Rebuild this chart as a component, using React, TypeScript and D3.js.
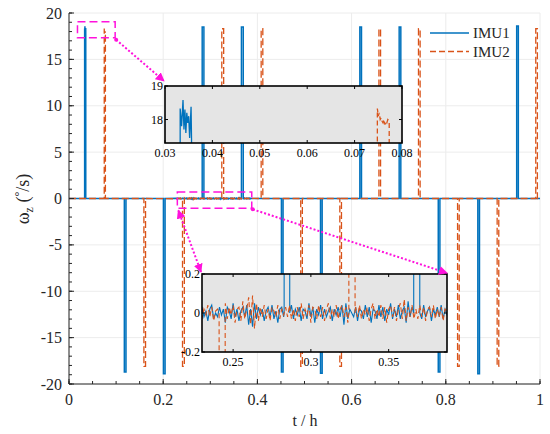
import React from "react";
import * as d3 from "d3";

// ---------- data (t in h, omega_z in deg/s) ----------
const imu1Start = [0.0332, 0.1175, 0.2005, 0.2828, 0.3661, 0.451, 0.534, 0.6175, 0.701, 0.784, 0.868, 0.9505];
const imu1End = [0.0356, 0.121, 0.204, 0.2864, 0.37, 0.4545, 0.5375, 0.621, 0.7045, 0.7875, 0.8715, 0.954];
const imu1Peak = [18.4, -18.7, -18.9, 18.5, 18.5, -18.7, -18.85, 18.5, 18.5, -18.7, -18.9, 18.6];

const imu2Start = [0.0748, 0.159, 0.241, 0.3244, 0.408, 0.492, 0.575, 0.658, 0.742, 0.825, 0.909, 0.991];
const imu2End = [0.0773, 0.1625, 0.2449, 0.3284, 0.4115, 0.4955, 0.5785, 0.6615, 0.7455, 0.8285, 0.9125, 0.9945];
const imu2Peak = [18.3, -18.1, -18.1, 18.3, 18.3, -18.1, -18.1, 18.3, 18.3, -18.1, -18.1, 18.3];

// top of the first positive pulse (zoom 1)
const imu1BurstT = [0.0332, 0.0335, 0.0338, 0.034, 0.0342, 0.0344, 0.0346, 0.0348, 0.035, 0.0352, 0.0355, 0.0356];
const imu1BurstV = [18.33, 17.8, 18.58, 17.7, 18.3, 17.6, 18.2, 17.9, 18.1, 17.45, 18.38, 17.4];
const imu2BurstT = [0.0748, 0.075, 0.0752, 0.0754, 0.0756, 0.0758, 0.076, 0.0762, 0.0764, 0.0766, 0.0768, 0.077, 0.0773];
const imu2BurstV = [18.33, 18.1, 18.2, 18.0, 18.05, 17.95, 17.9, 18.0, 17.85, 17.95, 17.9, 18.0, 17.95];

// baseline noise in the window of zoom 2 (one sample every noiseStep h)
const noiseT0 = 0.23;
const noiseStep = 0.00125;
const imu1Noise = [
  0.03, -0.02, 0.01, -0.04, 0.02, 0.04, -0.03, 0.0, -0.02, 0.03,
  -0.01, 0.02, -0.05, 0.03, 0.01, -0.03, 0.05, -0.02, 0.02, -0.04,
  0.01, 0.03, -0.02, 0.04, -0.06, 0.02, -0.07, 0.05, -0.03, 0.03,
  -0.01, 0.02, -0.04, 0.01, 0.03, -0.02, 0.04, -0.03, 0.01, -0.05,
  0.02, 0.03, -0.02, 0.01, 0.0, -0.01, 0.04, -0.03, 0.02, -0.01,
  0.03, -0.04, 0.02, 0.01, -0.03, 0.05, -0.02, 0.03, -0.05, 0.02,
  -0.01, 0.04, -0.03, 0.02, -0.02, 0.01, 0.03, -0.04, 0.02, -0.01,
  0.03, -0.02, 0.04, -0.06, 0.05, -0.03, 0.02, 0.0, -0.02, 0.03,
  -0.04, 0.02, 0.01, -0.03, 0.04, -0.02, 0.03, -0.05, 0.02, 0.01,
  -0.03, 0.04, -0.02, 0.03, -0.04, 0.02, -0.01, 0.05, -0.03, 0.02,
  -0.02, 0.04, -0.03, 0.01, 0.03, -0.05, 0.06, -0.02, 0.03, 0.0,
  0.01, -0.02, 0.02, -0.03, 0.04, -0.02, 0.01, 0.03, -0.04, 0.02,
  -0.01, 0.03, -0.02, 0.04, -0.03, 0.02, -0.01,
];
const imu2Noise = [
  -0.03, 0.02, -0.01, 0.04, -0.02, 0.03, -0.04, 0.01, 0.02, -0.03,
  0.02, -0.02, 0.05, -0.03, 0.03, -0.01, 0.04, -0.05, 0.02, 0.03,
  -0.04, 0.06, -0.03, 0.02, 0.08, -0.06, 0.09, -0.08, 0.05, -0.04,
  0.03, -0.02, 0.04, -0.03, 0.02, -0.04, 0.03, 0.01, -0.02, 0.04,
  -0.03, 0.02, -0.01, 0.03, -0.02, 0.04, -0.03, 0.02, -0.04, 0.03,
  -0.02, 0.05, -0.03, 0.02, -0.01, 0.04, -0.05, 0.03, 0.02, -0.03,
  0.04, -0.02, 0.03, -0.04, 0.02, 0.05, -0.03, 0.02, -0.02, 0.04,
  -0.03, 0.02, 0.04, -0.02, 0.03, -0.05, 0.02, 0.06, -0.04, 0.03,
  -0.02, 0.04, -0.03, 0.02, -0.01, 0.03, -0.04, 0.02, 0.05, -0.03,
  0.02, -0.02, 0.04, -0.03, 0.03, -0.05, 0.02, 0.04, -0.02, 0.03,
  -0.04, 0.02, 0.05, -0.03, 0.07, -0.04, 0.03, -0.02, 0.04, -0.03,
  0.02, -0.03, 0.04, -0.02, 0.03, -0.04, 0.02, 0.03, -0.02, 0.04,
  -0.03, 0.02, -0.02, 0.03, -0.04, 0.02, 0.01,
];

const xTicks = [0, 0.2, 0.4, 0.6, 0.8, 1];
const yTicks = [-20, -15, -10, -5, 0, 5, 10, 15, 20];
const zoom1X = [0.03, 0.04, 0.05, 0.06, 0.07, 0.08];
const zoom1Y = [18, 19];
const zoom2X = [0.25, 0.3, 0.35];
const zoom2Y = [-0.2, 0, 0.2];
const zoom1Box = { t: [0.018, 0.098], w: [17.33, 19.06] };
const zoom2Box = { t: [0.23, 0.388], w: [-1.06, 0.7] };

const BLUE = "#0072BD";
const ORANGE = "#D95319";
const MAGENTA = "#ff12dc";
const FONT = "'Liberation Serif', 'Times New Roman', serif";

type Pt = [number, number];

function buildSeries(
  start: number[],
  end: number[],
  peak: number[],
  burstT: number[],
  burstV: number[],
  noise: number[]
): Pt[] {
  const pts: Pt[] = [[0, 0]];
  noise.forEach((v, i) => {
    const t = noiseT0 + i * noiseStep;
    if (!start.some((s, k) => t >= s && t <= end[k])) pts.push([t, v]);
  });
  start.forEach((s, k) => {
    if (k === 0) {
      pts.push([s, 0]);
      burstT.forEach((t, j) => pts.push([t, burstV[j]]));
      pts.push([end[k], 0]);
    } else {
      pts.push([s, 0], [s, peak[k]], [end[k], peak[k]], [end[k], 0]);
    }
  });
  pts.push([1, 0]);
  return pts.sort((a, b) => a[0] - b[0]);
}

const imu1 = buildSeries(imu1Start, imu1End, imu1Peak, imu1BurstT, imu1BurstV, imu1Noise);
const imu2 = buildSeries(imu2Start, imu2End, imu2Peak, imu2BurstT, imu2BurstV, imu2Noise);

const M = { left: 69, right: 540, top: 13, bottom: 384 };
const x = d3.scaleLinear().domain([0, 1]).range([M.left, M.right]);
const y = d3.scaleLinear().domain([-20, 20]).range([M.bottom, M.top]);

interface InsetProps {
  id: string;
  box: { left: number; right: number; top: number; bottom: number };
  xDomain: [number, number];
  yDomain: [number, number];
  xt: number[];
  yt: number[];
  lw: number;
}

const Inset: React.FC<InsetProps> = ({ id, box, xDomain, yDomain, xt, yt, lw }) => {
  const sx = d3.scaleLinear().domain(xDomain).range([box.left, box.right]);
  const sy = d3.scaleLinear().domain(yDomain).range([box.bottom, box.top]);
  const line = d3
    .line<Pt>()
    .x((d) => sx(d[0]))
    .y((d) => sy(d[1]));
  const tl = 3;
  return (
    <g>
      <defs>
        <clipPath id={id}>
          <rect x={box.left} y={box.top} width={box.right - box.left} height={box.bottom - box.top} />
        </clipPath>
      </defs>
      <rect x={box.left} y={box.top} width={box.right - box.left} height={box.bottom - box.top} fill="#e5e5e5" />
      <g clipPath={`url(#${id})`}>
        <path d={line(imu1)!} fill="none" stroke={BLUE} strokeWidth={lw} />
        <path d={line(imu2)!} fill="none" stroke={ORANGE} strokeWidth={lw} strokeDasharray="5,3" />
      </g>
      {xt.map((t) => (
        <g key={"x" + t}>
          <line x1={sx(t)} x2={sx(t)} y1={box.bottom} y2={box.bottom - tl} stroke="#000" />
          <line x1={sx(t)} x2={sx(t)} y1={box.top} y2={box.top + tl} stroke="#000" />
          <text x={sx(t)} y={box.bottom + 14} textAnchor="middle" fontSize={12}>
            {String(t)}
          </text>
        </g>
      ))}
      {yt.map((v) => (
        <g key={"y" + v}>
          <line x1={box.left} x2={box.left + tl} y1={sy(v)} y2={sy(v)} stroke="#000" />
          <line x1={box.right} x2={box.right - tl} y1={sy(v)} y2={sy(v)} stroke="#000" />
          <text x={box.left - 2} y={sy(v) + 4} textAnchor="end" fontSize={12}>
            {String(v)}
          </text>
        </g>
      ))}
      <rect
        x={box.left}
        y={box.top}
        width={box.right - box.left}
        height={box.bottom - box.top}
        fill="none"
        stroke="#000"
        strokeWidth={1.6}
      />
    </g>
  );
};

const inset1 = { left: 165, right: 402, top: 86, bottom: 143 };
const inset2 = { left: 202, right: 447, top: 274, bottom: 352 };

export default function App() {
  const line = d3
    .line<Pt>()
    .x((d) => x(d[0]))
    .y((d) => y(d[1]));

  const xMinor = d3.range(0, 1.0001, 0.05);
  const yMinor = d3.range(-20, 20.0001, 1);

  const b1 = {
    x: x(zoom1Box.t[0]),
    y: y(zoom1Box.w[1]),
    w: x(zoom1Box.t[1]) - x(zoom1Box.t[0]),
    h: y(zoom1Box.w[0]) - y(zoom1Box.w[1]),
  };
  const b2 = {
    x: x(zoom2Box.t[0]),
    y: y(zoom2Box.w[1]),
    w: x(zoom2Box.t[1]) - x(zoom2Box.t[0]),
    h: y(zoom2Box.w[0]) - y(zoom2Box.w[1]),
  };

  const arrows = [
    { x1: b1.x + b1.w + 1, y1: b1.y + b1.h + 2, x2: inset1.left - 1, y2: inset1.top - 5, start: false },
    { x1: b2.x + 1, y1: b2.y + b2.h + 2, x2: inset2.left - 1, y2: inset2.top - 2, start: true },
    { x1: b2.x + b2.w + 1, y1: b2.y + b2.h + 1, x2: inset2.right, y2: inset2.top - 1, start: false },
  ];

  return (
    <svg
      width={550}
      height={434}
      style={{ position: "absolute", left: 0, top: 0, background: "#fff" }}
      fontFamily={FONT}
    >
      <defs>
        <clipPath id="mainClip">
          <rect x={M.left} y={M.top - 2} width={M.right - M.left} height={M.bottom - M.top + 4} />
        </clipPath>
        <marker
          id="head"
          viewBox="0 0 10 10"
          refX="9"
          refY="5"
          markerWidth="9"
          markerHeight="9"
          markerUnits="userSpaceOnUse"
          orient="auto-start-reverse"
        >
          <path d="M0,0 L10,5 L0,10 Z" fill={MAGENTA} />
        </marker>
      </defs>

      {/* grid */}
      {xTicks.map((t) => (
        <line key={"gx" + t} x1={x(t)} x2={x(t)} y1={M.top} y2={M.bottom} stroke="#ececec" />
      ))}
      {yTicks.map((v) => (
        <line key={"gy" + v} x1={M.left} x2={M.right} y1={y(v)} y2={y(v)} stroke="#ececec" />
      ))}

      {/* series */}
      <g clipPath="url(#mainClip)">
        <path d={line(imu1)!} fill="none" stroke={BLUE} strokeWidth={1.5} />
        <path d={line(imu2)!} fill="none" stroke={ORANGE} strokeWidth={1.3} strokeDasharray="7,3" />
      </g>

      {/* axes */}
      <line x1={M.left} x2={M.left} y1={M.top} y2={M.bottom} stroke="#262626" />
      <line x1={M.left} x2={M.right} y1={M.bottom} y2={M.bottom} stroke="#262626" />
      {xMinor.map((t) => (
        <line key={"xm" + t} x1={x(t)} x2={x(t)} y1={M.bottom} y2={M.bottom - 3} stroke="#262626" />
      ))}
      {yMinor.map((v) => (
        <line key={"ym" + v} x1={M.left} x2={M.left + 3} y1={y(v)} y2={y(v)} stroke="#262626" />
      ))}
      {xTicks.map((t) => (
        <g key={"xt" + t}>
          <line x1={x(t)} x2={x(t)} y1={M.bottom} y2={M.bottom - 5} stroke="#262626" />
          <text x={x(t)} y={M.bottom + 21} textAnchor="middle" fontSize={16} fill="#262626">
            {String(t)}
          </text>
        </g>
      ))}
      {yTicks.map((v) => (
        <g key={"yt" + v}>
          <line x1={M.left} x2={M.left + 5} y1={y(v)} y2={y(v)} stroke="#262626" />
          <text x={M.left - 7} y={y(v) + 5.5} textAnchor="end" fontSize={16} fill="#262626">
            {String(v)}
          </text>
        </g>
      ))}

      {/* axis labels */}
      <text x={305} y={426} textAnchor="middle" fontSize={16} fill="#262626">
        t / h
      </text>
      <text transform="translate(29,199) rotate(-90)" textAnchor="middle" fontSize={18} fill="#262626">
        ω
        <tspan dy={4} fontSize={12}>
          z
        </tspan>
        <tspan dy={-4}> (</tspan>
        <tspan dy={-6} fontSize={12}>
          °
        </tspan>
        <tspan dy={6}>/s)</tspan>
      </text>

      {/* zoom boxes */}
      <rect x={b1.x} y={b1.y} width={b1.w} height={b1.h} fill="none" stroke={MAGENTA} strokeWidth={1.5} strokeDasharray="8,4" />
      <rect x={b2.x} y={b2.y} width={b2.w} height={b2.h} fill="none" stroke={MAGENTA} strokeWidth={1.5} strokeDasharray="8,4" />

      <Inset id="in1" box={inset1} xDomain={[0.03, 0.08]} yDomain={[17.3, 19]} xt={zoom1X} yt={zoom1Y} lw={1.3} />
      <Inset id="in2" box={inset2} xDomain={[0.23, 0.3875]} yDomain={[-0.2, 0.2]} xt={zoom2X} yt={zoom2Y} lw={1.1} />

      {/* arrows */}
      {arrows.map((a, i) => (
        <line
          key={"a" + i}
          x1={a.x1}
          y1={a.y1}
          x2={a.x2}
          y2={a.y2}
          stroke={MAGENTA}
          strokeWidth={2}
          strokeDasharray="2,2"
          markerEnd="url(#head)"
          markerStart={a.start ? "url(#head)" : undefined}
        />
      ))}
      {arrows.map((a, i) => (
        <circle key={"d" + i} cx={a.x1} cy={a.y1} r={a.start ? 0 : 2} fill={MAGENTA} />
      ))}

      {/* legend */}
      <line x1={430} x2={469} y1={33} y2={33} stroke={BLUE} strokeWidth={1.5} />
      <text x={473} y={38} fontSize={15} fill="#262626">
        IMU1
      </text>
      <line x1={430} x2={469} y1={51.5} y2={51.5} stroke={ORANGE} strokeWidth={1.5} strokeDasharray="6,3" />
      <text x={473} y={56.5} fontSize={15} fill="#262626">
        IMU2
      </text>
    </svg>
  );
}
